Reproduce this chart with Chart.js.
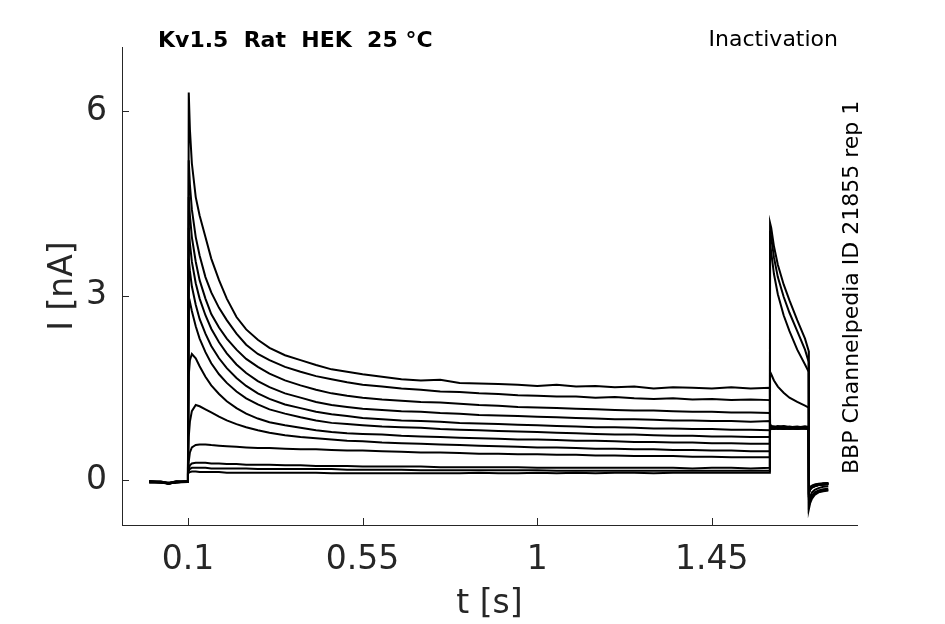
<!DOCTYPE html>
<html>
<head>
<meta charset="utf-8">
<title>Kv1.5 Rat HEK 25 °C - Inactivation</title>
<script src="https://cdn.jsdelivr.net/npm/chart.js@4.4.1/dist/chart.umd.min.js"></script>
<style>
  html, body { margin: 0; padding: 0; background: #fff; }
  canvas { display: block; }
</style>
</head>
<body>
<canvas id="chart" width="945" height="624"></canvas>
<script>
// sample times [s], shared by all sweeps
const times = [
  0, 0.03, 0.05, 0.07, 0.0995,
  0.1, 0.102, 0.105, 0.11, 0.12, 0.13, 0.145, 0.16, 0.18, 0.2,
  0.225, 0.25, 0.28, 0.31, 0.35, 0.39, 0.43, 0.47, 0.51, 0.55,
  0.6, 0.65, 0.7, 0.75, 0.8, 0.85, 0.9, 0.95, 1.0, 1.05,
  1.1, 1.15, 1.2, 1.25, 1.3, 1.35, 1.4, 1.45, 1.5, 1.55, 1.5995,
  1.6, 1.603, 1.61, 1.62, 1.635, 1.65, 1.67, 1.69, 1.6995,
  1.7, 1.703, 1.708, 1.715, 1.725, 1.737, 1.75
];

// current [nA], one array per sweep
const sweep1 = [
  -0.03, -0.04, -0.06, -0.03, -0.03,
  0.2, 6.3, 5.7, 5.15, 4.6, 4.3, 3.95, 3.6, 3.25, 2.95,
  2.65, 2.45, 2.28, 2.15, 2.03, 1.95, 1.87, 1.8, 1.76, 1.72,
  1.68, 1.64, 1.62, 1.63, 1.58, 1.57, 1.56, 1.55, 1.53, 1.55,
  1.52, 1.53, 1.51, 1.52, 1.49, 1.51, 1.5, 1.49, 1.51, 1.49, 1.5,
  0.91, 0.88, 0.86, 0.88, 0.86, 0.87, 0.85, 0.87, 0.86,
  -0.22, -0.16, -0.12, -0.1, -0.08, -0.07, -0.06
];
const sweep2 = [
  -0.02, -0.03, -0.05, -0.04, -0.02,
  0.2, 5.2, 4.8, 4.4, 3.95, 3.65, 3.3, 3.05, 2.8, 2.6,
  2.38, 2.2, 2.05, 1.95, 1.84, 1.76, 1.69, 1.64, 1.59, 1.55,
  1.52, 1.49, 1.47, 1.44, 1.43, 1.41, 1.4, 1.38, 1.37, 1.36,
  1.36, 1.34, 1.35, 1.33, 1.32, 1.33, 1.31, 1.32, 1.3, 1.31, 1.3,
  0.88, 0.85, 0.83, 0.85, 0.84, 0.83, 0.85, 0.84, 0.83,
  -0.2, -0.15, -0.11, -0.09, -0.08, -0.07, -0.06
];
const sweep3 = [
  -0.04, -0.03, -0.05, -0.02, -0.03,
  0.2, 4.6, 4.3, 3.95, 3.55, 3.25, 2.95, 2.7, 2.48, 2.3,
  2.12, 1.97, 1.84, 1.73, 1.62, 1.54, 1.47, 1.41, 1.37, 1.34,
  1.31, 1.29, 1.27, 1.26, 1.24, 1.22, 1.21, 1.19, 1.18, 1.17,
  1.16, 1.15, 1.14, 1.13, 1.13, 1.12, 1.11, 1.11, 1.1, 1.1, 1.09,
  0.89, 0.87, 0.87, 0.86, 0.88, 0.86, 0.87, 0.85, 0.87,
  -0.18, -0.14, -0.1, -0.08, -0.07, -0.06, -0.05
];
const sweep4 = [
  -0.03, -0.02, -0.06, -0.03, -0.02,
  0.18, 4.1, 3.85, 3.55, 3.2, 2.95, 2.68, 2.46, 2.24, 2.06,
  1.88, 1.74, 1.61, 1.51, 1.41, 1.34, 1.27, 1.22, 1.19, 1.16,
  1.14, 1.12, 1.11, 1.09, 1.08, 1.06, 1.05, 1.04, 1.03, 1.02,
  1.01, 1.0, 0.99, 0.99, 0.98, 0.97, 0.97, 0.96, 0.96, 0.95, 0.96,
  0.86, 0.84, 0.83, 0.85, 0.83, 0.84, 0.83, 0.85, 0.84,
  -0.2, -0.15, -0.12, -0.1, -0.08, -0.07, -0.07
];
const sweep5 = [
  -0.02, -0.04, -0.05, -0.03, -0.03,
  0.18, 3.6, 3.4, 3.15, 2.85, 2.62, 2.38, 2.18, 1.98, 1.82,
  1.66, 1.53, 1.41, 1.32, 1.23, 1.17, 1.11, 1.07, 1.04, 1.01,
  0.99, 0.97, 0.96, 0.95, 0.93, 0.92, 0.91, 0.9, 0.89, 0.88,
  0.87, 0.86, 0.86, 0.85, 0.84, 0.84, 0.83, 0.83, 0.82, 0.82, 0.81,
  0.87, 0.86, 0.87, 0.85, 0.87, 0.86, 0.86, 0.85, 0.87,
  -0.19, -0.14, -0.11, -0.09, -0.08, -0.07, -0.06
];
const sweep6 = [
  -0.03, -0.03, -0.04, -0.04, -0.02,
  0.16, 2.85, 2.9, 2.75, 2.5, 2.3, 2.08, 1.9, 1.72, 1.58,
  1.44, 1.33, 1.23, 1.15, 1.08, 1.02, 0.97, 0.93, 0.91, 0.89,
  0.87, 0.86, 0.85, 0.83, 0.82, 0.81, 0.8, 0.79, 0.78, 0.77,
  0.76, 0.75, 0.74, 0.74, 0.73, 0.72, 0.72, 0.71, 0.71, 0.7, 0.7,
  0.85, 0.83, 0.85, 0.84, 0.83, 0.85, 0.84, 0.84, 0.83,
  -0.17, -0.13, -0.1, -0.08, -0.07, -0.06, -0.05
];
const sweep7 = [
  -0.03, -0.04, -0.05, -0.03, -0.03,
  0.15, 1.7, 1.95, 2.05, 1.98, 1.85, 1.68, 1.54, 1.4, 1.28,
  1.17, 1.08, 1.0, 0.94, 0.89, 0.85, 0.81, 0.78, 0.76, 0.75,
  0.74, 0.72, 0.71, 0.7, 0.69, 0.68, 0.67, 0.66, 0.66, 0.65,
  0.64, 0.64, 0.63, 0.62, 0.62, 0.61, 0.61, 0.6, 0.6, 0.59, 0.59,
  0.88, 0.87, 0.86, 0.87, 0.87, 0.85, 0.86, 0.87, 0.86,
  -0.16, -0.12, -0.1, -0.08, -0.07, -0.06, -0.05
];
const sweep8 = [
  -0.02, -0.03, -0.05, -0.04, -0.03,
  0.14, 0.7, 0.95, 1.12, 1.22, 1.2, 1.15, 1.1, 1.03, 0.97,
  0.91, 0.86, 0.81, 0.77, 0.73, 0.7, 0.68, 0.66, 0.64, 0.63,
  0.61, 0.6, 0.59, 0.58, 0.57, 0.56, 0.55, 0.54, 0.53, 0.53,
  0.52, 0.51, 0.51, 0.5, 0.5, 0.49, 0.49, 0.48, 0.48, 0.47, 0.47,
  0.84, 0.83, 0.84, 0.83, 0.84, 0.84, 0.83, 0.84, 0.83,
  -0.15, -0.11, -0.09, -0.07, -0.06, -0.05, -0.05
];
const sweep9 = [
  -0.03, -0.03, -0.05, -0.03, -0.02,
  0.12, 0.3, 0.45, 0.53, 0.57, 0.58, 0.58, 0.57, 0.56, 0.55,
  0.54, 0.53, 0.52, 0.52, 0.51, 0.5, 0.5, 0.49, 0.48, 0.48,
  0.47, 0.46, 0.45, 0.45, 0.44, 0.43, 0.43, 0.42, 0.42, 0.41,
  0.41, 0.4, 0.4, 0.39, 0.39, 0.39, 0.38, 0.38, 0.37, 0.37, 0.37,
  1.76, 1.72, 1.62, 1.52, 1.42, 1.34, 1.27, 1.21, 1.18,
  -0.35, -0.27, -0.2, -0.16, -0.13, -0.11, -0.1
];
const sweep10 = [
  -0.04, -0.03, -0.06, -0.03, -0.03,
  0.12, 0.18, 0.24, 0.27, 0.28, 0.28, 0.28, 0.27, 0.27, 0.26,
  0.26, 0.25, 0.25, 0.25, 0.24, 0.24, 0.23, 0.23, 0.23, 0.22,
  0.22, 0.22, 0.22, 0.21, 0.21, 0.21, 0.21, 0.21, 0.2, 0.2,
  0.2, 0.2, 0.2, 0.2, 0.2, 0.2, 0.19, 0.2, 0.2, 0.19, 0.2,
  3.85, 3.7, 3.35, 3.02, 2.68, 2.42, 2.12, 1.88, 1.76,
  -0.4, -0.32, -0.25, -0.2, -0.17, -0.15, -0.14
];
const sweep11 = [
  -0.03, -0.04, -0.05, -0.02, -0.03,
  0.11, 0.15, 0.18, 0.2, 0.2, 0.2, 0.2, 0.19, 0.19, 0.19,
  0.19, 0.19, 0.18, 0.18, 0.18, 0.18, 0.18, 0.18, 0.17, 0.17,
  0.17, 0.17, 0.16, 0.16, 0.16, 0.16, 0.16, 0.16, 0.16, 0.15,
  0.15, 0.15, 0.15, 0.15, 0.15, 0.15, 0.15, 0.15, 0.15, 0.15, 0.15,
  4.05, 3.95, 3.62, 3.3, 2.98, 2.72, 2.42, 2.12, 1.92,
  -0.42, -0.34, -0.27, -0.22, -0.19, -0.17, -0.16
];
const sweep12 = [
  -0.02, -0.03, -0.06, -0.03, -0.02,
  0.1, 0.12, 0.13, 0.14, 0.14, 0.13, 0.13, 0.13, 0.13, 0.12,
  0.12, 0.12, 0.12, 0.12, 0.12, 0.12, 0.12, 0.11, 0.11, 0.11,
  0.11, 0.11, 0.11, 0.11, 0.11, 0.12, 0.11, 0.11, 0.12, 0.11,
  0.12, 0.11, 0.12, 0.12, 0.11, 0.12, 0.12, 0.12, 0.12, 0.12, 0.12,
  4.18, 4.1, 3.8, 3.5, 3.18, 2.92, 2.6, 2.3, 2.1,
  -0.47, -0.38, -0.3, -0.24, -0.2, -0.18, -0.17
];
const sweeps = [sweep1, sweep2, sweep3, sweep4, sweep5, sweep6,
                sweep7, sweep8, sweep9, sweep10, sweep11, sweep12];

const xTicks = [0.1, 0.55, 1, 1.45];
const yTicks = [0, 3, 6];

const titleText = 'Kv1.5  Rat  HEK  25 °C';
const protocolText = 'Inactivation';
const sourceText = 'BBP Channelpedia ID 21855 rep 1';
const xTitle = 't [s]';
const yTitle = 'I [nA]';

const axisColor = '#262626';
const font = 'DejaVu Sans';

// inward tick marks, axis titles and the annotation texts
const annotations = {
  id: 'annotations',
  afterDraw(chart) {
    const { ctx, chartArea: a, scales: { x, y } } = chart;
    ctx.save();
    ctx.strokeStyle = axisColor;
    ctx.lineWidth = 1;
    ctx.beginPath();
    xTicks.forEach(v => {
      const px = Math.round(x.getPixelForValue(v)) + 0.5;
      ctx.moveTo(px, a.bottom);
      ctx.lineTo(px, a.bottom - 7);
    });
    yTicks.forEach(v => {
      const py = Math.round(y.getPixelForValue(v)) + 0.5;
      ctx.moveTo(a.left, py);
      ctx.lineTo(a.left + 7, py);
    });
    ctx.stroke();

    ctx.fillStyle = axisColor;
    ctx.textBaseline = 'alphabetic';
    ctx.font = `33px "${font}"`;
    ctx.textAlign = 'center';
    ctx.fillText(xTitle, (a.left + a.right) / 2, 613);

    ctx.save();
    ctx.translate(72, (a.top + a.bottom) / 2);
    ctx.rotate(-Math.PI / 2);
    ctx.fillText(yTitle, 0, 0);
    ctx.restore();

    ctx.fillStyle = '#000';
    ctx.font = `bold 22px "${font}"`;
    ctx.textAlign = 'left';
    ctx.fillText(titleText, 158, 47);

    ctx.font = `22px "${font}"`;
    ctx.textAlign = 'right';
    ctx.fillText(protocolText, 838, 46);

    ctx.save();
    ctx.translate(858, 474);
    ctx.rotate(-Math.PI / 2);
    ctx.textAlign = 'left';
    ctx.fillText(sourceText, 0, 0);
    ctx.restore();

    ctx.restore();
  }
};

new Chart(document.getElementById('chart'), {
  type: 'line',
  data: {
    datasets: sweeps.map((s, i) => ({
      label: 'sweep ' + (i + 1),
      data: times.map((t, k) => ({ x: t, y: s[k] })),
      borderColor: '#000',
      borderWidth: 2,
      pointRadius: 0,
      tension: 0,
      fill: false
    }))
  },
  options: {
    responsive: false,
    animation: false,
    devicePixelRatio: 1,
    layout: { padding: { top: 47, right: 88, left: 0, bottom: 0 } },
    plugins: {
      legend: { display: false },
      tooltip: { enabled: false },
      title: { display: false }
    },
    scales: {
      x: {
        type: 'linear',
        min: -0.07,
        max: 1.824,
        afterFit: scale => { scale.height = 99; },
        afterBuildTicks: scale => { scale.ticks = xTicks.map(v => ({ value: v })); },
        grid: { display: false, drawTicks: false },
        border: { display: true, color: axisColor, width: 1 },
        ticks: {
          color: axisColor,
          font: { family: font, size: 33 },
          padding: 16,
          maxRotation: 0,
          autoSkip: false,
          callback: v => String(v)
        }
      },
      y: {
        type: 'linear',
        min: -0.73,
        max: 7.04,
        afterFit: scale => { scale.width = 122; },
        afterBuildTicks: scale => { scale.ticks = yTicks.map(v => ({ value: v })); },
        grid: { display: false, drawTicks: false },
        border: { display: true, color: axisColor, width: 1 },
        ticks: {
          color: axisColor,
          font: { family: font, size: 33 },
          padding: 15,
          autoSkip: false,
          callback: v => String(v)
        }
      }
    }
  },
  plugins: [annotations]
});
</script>
</body>
</html>
